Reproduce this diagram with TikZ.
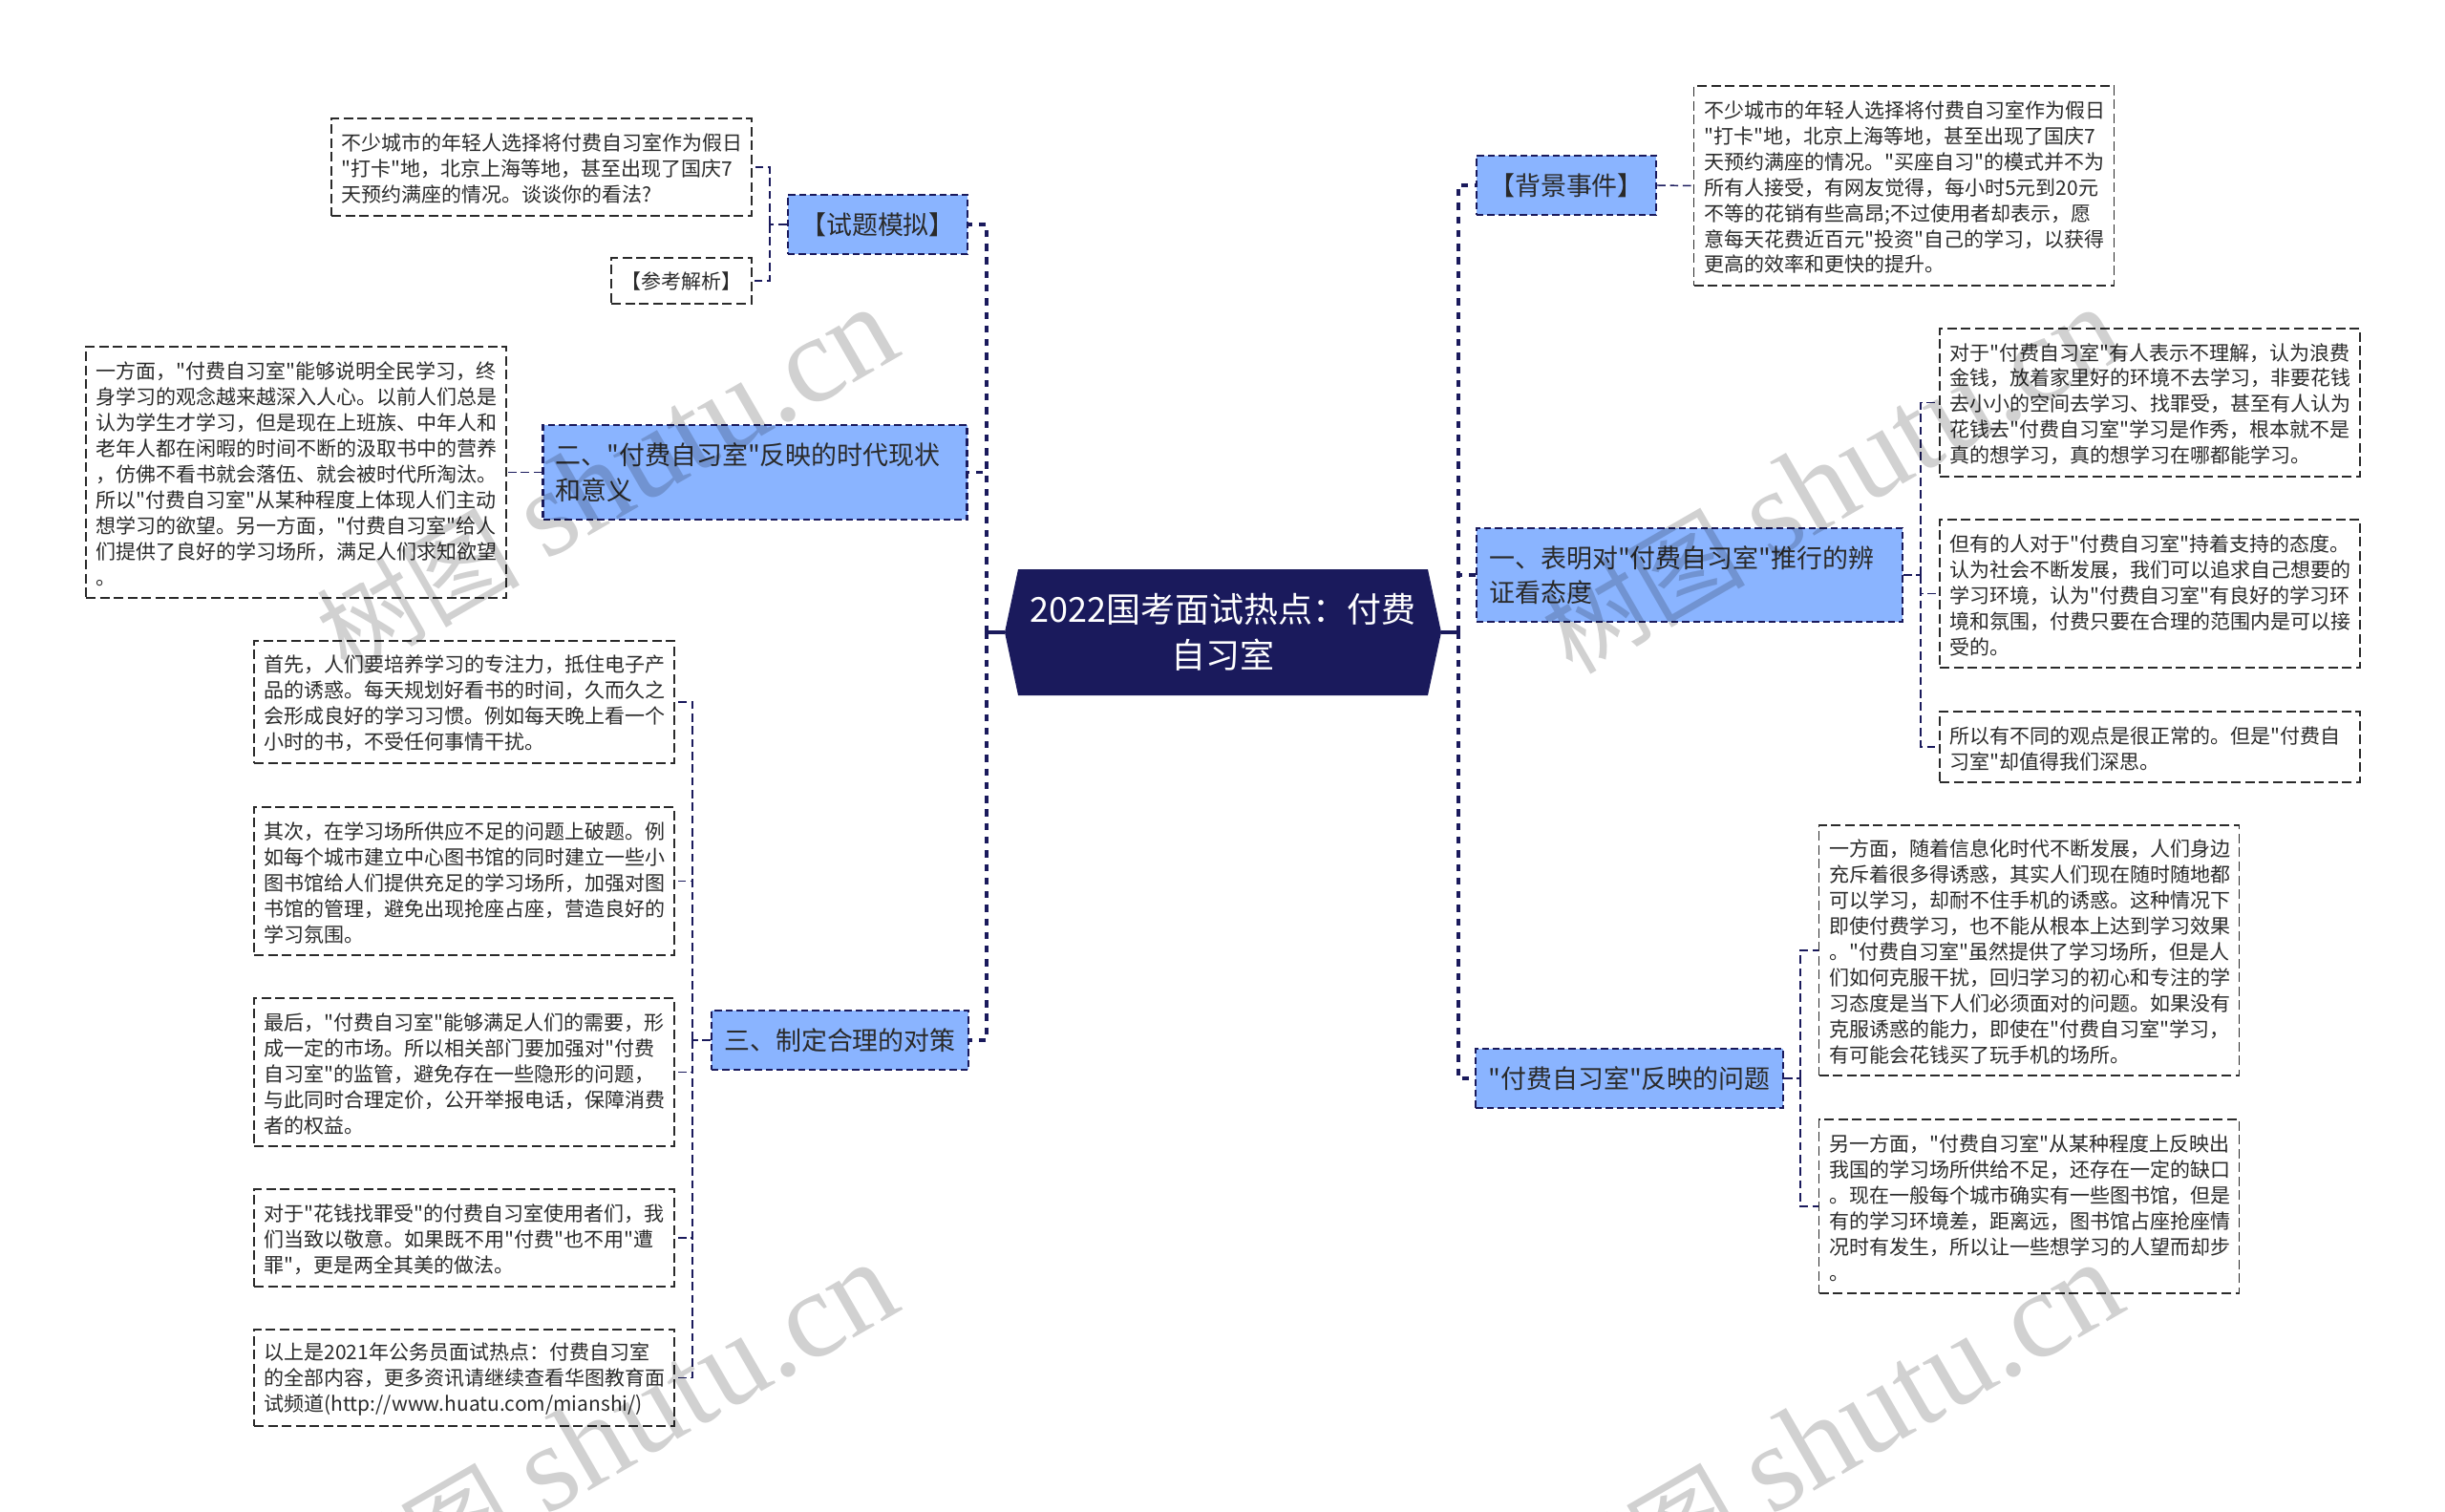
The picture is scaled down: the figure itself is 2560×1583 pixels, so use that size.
\documentclass[tikz,border=0pt]{standalone}
\usepackage{fontspec}
\newfontfamily\cjkmain{Noto Sans CJK SC}
\newfontfamily\wmfont{Liberation Serif}
\AtBeginDocument{\cjkmain}
\usetikzlibrary{shapes.symbols}
\definecolor{navy}{HTML}{1A1A5C}
\definecolor{skyfill}{HTML}{8AB4FF}
\definecolor{inktext}{HTML}{2A2A2A}
\newcommand{\tightlines}{\lineskiplimit-20pt\relax}
\tikzset{
  rootbox/.style={shape=signal,signal to=east and west,signal pointer angle=156,
    fill=navy,text=white,align=center,inner sep=0pt,minimum width=342.75pt,minimum height=99pt,
    font=\fontsize{27}{36}\selectfont\tightlines},
  mainbox/.style={draw=navy,fill=skyfill,line width=1.6pt,dash pattern=on 5.5pt off 3pt,
    text=inktext,align=left,inner xsep=10pt,inner ysep=0pt,
    font=\fontsize{20.2}{27.5}\selectfont\tightlines},
  leafbox/.style={draw=inktext,line width=1.1pt,dash pattern=on 7.5pt off 3.4pt,
    text=inktext,align=left,text width=314pt,inner xsep=8pt,inner ysep=0pt,
    execute at end node={\par\vspace*{-2.4pt}},
    font=\fontsize{15.75}{20.2}\selectfont\tightlines},
  spine/.style={draw=navy,line width=2.6pt,dash pattern=on 5.5pt off 5.2pt},
  stem/.style={draw=navy,line width=2.6pt},
  twig/.style={draw=navy,line width=1.1pt,dash pattern=on 6.5pt off 3.5pt},
  wmark/.style={anchor=base east,rotate=30,text=black,text opacity=.18,inner sep=0pt}
}
\newcommand{\wmtext}{{\fontsize{80}{80}\selectfont 树图}\hspace{20pt}{\wmfont\fontsize{97}{97}\selectfont shutu.cn}}
\begin{document}
\begin{tikzpicture}[x=.75pt,y=-.75pt]
  \clip (0,0) rectangle (2560,1583);
  \node[rootbox] (root) at (1280.5,662) {2022国考面试热点：付费\\自习室};
  \coordinate (ljunc) at (1033,662);
  \coordinate (rjunc) at (1527,662);

  % left side
  \node[mainbox,minimum width=141pt,minimum height=46.5pt] (test) at (919,235) {【试题模拟】};
  \node[mainbox,text width=313pt,minimum height=74.25pt] (two) at (790.5,494.5) {二、"付费自习室"反映的时代现状\\和意义};
  \node[mainbox,minimum width=201.75pt,minimum height=46.5pt] (three) at (879.5,1089) {三、制定合理的对策};
  \node[leafbox,minimum height=76.5pt] (tq) at (567,175) {不少城市的年轻人选择将付费自习室作为假日\\"打卡"地，北京上海等地，甚至出现了国庆7\\天预约满座的情况。谈谈你的看法?};
  \node[leafbox,text width=94pt,align=center,minimum height=36pt] (parse) at (713.5,294) {【参考解析】};
  \node[leafbox,minimum height=197.25pt] (twoleaf) at (310,494.5) {一方面，"付费自习室"能够说明全民学习，终\\身学习的观念越来越深入人心。以前人们总是\\认为学生才学习，但是现在上班族、中年人和\\老年人都在闲暇的时间不断的汲取书中的营养\\，仿佛不看书就会落伍、就会被时代所淘汰。\\所以"付费自习室"从某种程度上体现人们主动\\想学习的欲望。另一方面，"付费自习室"给人\\们提供了良好的学习场所，满足人们求知欲望\\。};
  \node[leafbox,minimum height=96pt] (first) at (486,735) {首先，人们要培养学习的专注力，抵住电子产\\品的诱惑。每天规划好看书的时间，久而久之\\会形成良好的学习习惯。例如每天晚上看一个\\小时的书，不受任何事情干扰。};
  \node[leafbox,minimum height=116.25pt] (second) at (486,922.5) {其次，在学习场所供应不足的问题上破题。例\\如每个城市建立中心图书馆的同时建立一些小\\图书馆给人们提供充足的学习场所，加强对图\\书馆的管理，避免出现抢座占座，营造良好的\\学习氛围。};
  \node[leafbox,minimum height=116.25pt] (last) at (486,1122.5) {最后，"付费自习室"能够满足人们的需要，形\\成一定的市场。所以相关部门要加强对"付费\\自习室"的监管，避免存在一些隐形的问题，\\与此同时合理定价，公开举报电话，保障消费\\者的权益。};
  \node[leafbox,minimum height=76.5pt] (users) at (486,1296) {对于"花钱找罪受"的付费自习室使用者们，我\\们当致以敬意。如果既不用"付费"也不用"遭\\罪"，更是两全其美的做法。};
  \node[leafbox,minimum height=76pt] (closing) at (486,1442.5) {以上是2021年公务员面试热点：付费自习室\\的全部内容，更多资讯请继续查看华图教育面\\试频道(http://www.huatu.com/mianshi/)};
  \coordinate (testj) at (806,235);
  \coordinate (threej) at (725,1089);

  % right side
  \node[mainbox,minimum width=141pt,minimum height=46.5pt] (bg) at (1640,194) {【背景事件】};
  \node[mainbox,text width=314.5pt,minimum height=73.5pt] (one) at (1769,602) {一、表明对"付费自习室"推行的辨\\证看态度};
  \node[mainbox,minimum width=240pt,minimum height=46.5pt] (issue) at (1706,1129) {"付费自习室"反映的问题};
  \node[leafbox,minimum height=156.75pt] (bgleaf) at (1993.5,194.5) {不少城市的年轻人选择将付费自习室作为假日\\"打卡"地，北京上海等地，甚至出现了国庆7\\天预约满座的情况。"买座自习"的模式并不为\\所有人接受，有网友觉得，每小时5元到20元\\不等的花销有些高昂;不过使用者却表示，愿\\意每天花费近百元"投资"自己的学习，以获得\\更高的效率和更快的提升。};
  \node[leafbox,minimum height=116.25pt] (against) at (2251,421.5) {对于"付费自习室"有人表示不理解，认为浪费\\金钱，放着家里好的环境不去学习，非要花钱\\去小小的空间去学习、找罪受，甚至有人认为\\花钱去"付费自习室"学习是作秀，根本就不是\\真的想学习，真的想学习在哪都能学习。};
  \node[leafbox,minimum height=116.25pt] (support) at (2251,621.5) {但有的人对于"付费自习室"持着支持的态度。\\认为社会不断发展，我们可以追求自己想要的\\学习环境，认为"付费自习室"有良好的学习环\\境和氛围，付费只要在合理的范围内是可以接\\受的。};
  \node[leafbox,minimum height=55.5pt] (views) at (2251,782) {所以有不同的观点是很正常的。但是"付费自\\习室"却值得我们深思。};
  \node[leafbox,minimum height=196.5pt] (phone) at (2124.5,995) {一方面，随着信息化时代不断发展，人们身边\\充斥着很多得诱惑，其实人们现在随时随地都\\可以学习，却耐不住手机的诱惑。这种情况下\\即使付费学习，也不能从根本上达到学习效果\\。"付费自习室"虽然提供了学习场所，但是人\\们如何克服干扰，回归学习的初心和专注的学\\习态度是当下人们必须面对的问题。如果没有\\克服诱惑的能力，即使在"付费自习室"学习，\\有可能会花钱买了玩手机的场所。};
  \node[leafbox,minimum height=136.5pt] (supply) at (2124.5,1263) {另一方面，"付费自习室"从某种程度上反映出\\我国的学习场所供给不足，还存在一定的缺口\\。现在一般每个城市确实有一些图书馆，但是\\有的学习环境差，距离远，图书馆占座抢座情\\况时有发生，所以让一些想学习的人望而却步\\。};
  \coordinate (onej) at (2011,602);
  \coordinate (issuej) at (1885,1129);

  % connectors
  \draw[stem] (root.west) -- (ljunc);
  \draw[stem] (root.east) -- (rjunc);
  \draw[spine] (ljunc) |- (test.east);
  \draw[spine] (ljunc) |- (two.east);
  \draw[spine] (ljunc) |- (three.east);
  \draw[spine] (rjunc) |- (bg.west);
  \draw[spine] (rjunc) |- (one.west);
  \draw[spine] (rjunc) |- (issue.west);
  \draw[twig] (test.west) -- (testj);
  \draw[twig] (testj) |- (tq.east);
  \draw[twig] (testj) |- (parse.east);
  \draw[twig] (two.west) -- (twoleaf.east);
  \draw[twig] (three.west) -- (threej);
  \foreach \leaf in {first,second,last,users,closing}
    \draw[twig] (threej) |- (\leaf.east);
  \draw[twig] (bg.east) -- (bgleaf.west);
  \draw[twig] (one.east) -- (onej);
  \foreach \leaf in {against,support,views}
    \draw[twig] (onej) |- (\leaf.west);
  \draw[twig] (issue.east) -- (issuej);
  \foreach \leaf in {phone,supply}
    \draw[twig] (issuej) |- (\leaf.west);

  % watermark
  \node[wmark] (wm1) at (948,370) {\wmtext};
  \node[wmark] (wm2) at (2231,370) {\wmtext};
  \node[wmark] (wm3) at (948,1370) {\wmtext};
  \node[wmark] (wm4) at (2231,1370) {\wmtext};
\end{tikzpicture}
\end{document}
